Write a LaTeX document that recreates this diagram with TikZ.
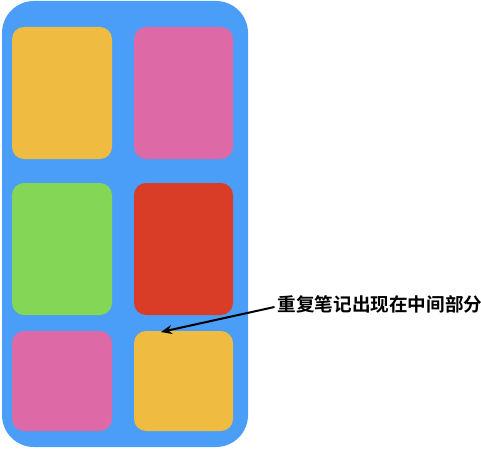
\documentclass[tikz,border=0pt]{standalone}
\usepackage{fontspec}
\newfontfamily\cjk{Noto Sans CJK SC Bold}
\definecolor{bgblue}{HTML}{4A9EF8}
\definecolor{cyellow}{HTML}{EFBB40}
\definecolor{cpink}{HTML}{DD69A6}
\definecolor{cgreen}{HTML}{84D656}
\definecolor{cred}{HTML}{D93D27}
\usetikzlibrary{arrows.meta}
\begin{document}
\begin{tikzpicture}[x=1pt,y=-1pt,
  card/.style={rounded corners=12pt},
  lbl/.style={font=\cjk\fontsize{18.6}{20}\selectfont, inner sep=0pt, anchor=west}]
\useasboundingbox (0,0) rectangle (481,449);
\fill[bgblue, rounded corners=32pt] (2,1) rectangle (248,447);
\fill[cyellow, card] (12,27) rectangle (112,159);
\fill[cpink, card] (134,27) rectangle (233,159);
\fill[cgreen, card] (12,183) rectangle (112,315);
\fill[cred, card] (134,183) rectangle (233,315);
\fill[cpink, card] (12,331) rectangle (112,431);
\fill[cyellow, card] (134,331) rectangle (233,431);
\node[lbl] (t) at (277.5,304) {重复笔记出现在中间部分};
\coordinate (tip) at (161,332);
\draw[line width=2pt, -{Stealth[length=11pt,width=9pt]}] ([xshift=-3pt,yshift=-3pt]t.west) -- (tip);
\end{tikzpicture}
\end{document}
